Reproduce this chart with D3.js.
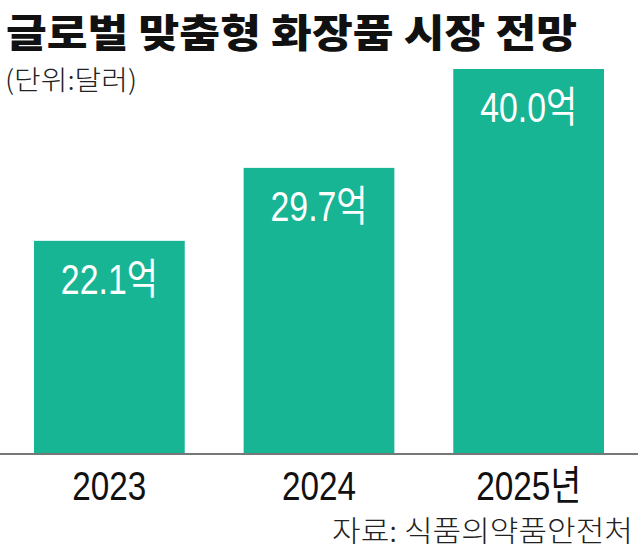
<!DOCTYPE html>
<html><head><meta charset="utf-8">
<script src="https://cdn.jsdelivr.net/npm/d3@7"></script>
<style>
html,body{margin:0;padding:0;background:#fff;}
svg{display:block;font-family:"Noto Sans CJK KR","Noto Sans",sans-serif;}
</style></head>
<body><svg id="c" width="638" height="550"></svg>
<script>
const categories = ["2023", "2024", "2025년"];
const values = [22.1, 29.7, 40.0];
const valueLabels = ["22.1억", "29.7억", "40.0억"];
const title = "글로벌 맞춤형 화장품 시장 전망";
const unitText = "(단위:달러)";
const sourceText = "자료:  식품의약품안전처";

const svg = d3.select("#c");
const barColor = "#17b593";
const numFont = "'Liberation Sans Narrow','Liberation Sans','Noto Sans CJK KR',sans-serif";

const x = d3.scaleBand().domain(categories).range([34, 604]).paddingInner(59/210).paddingOuter(0);
const y = d3.scaleLinear().domain([0, 40]).range([453, 69]);

// title
svg.append("text").attr("x", 6).attr("y", 47)
  .attr("font-size", 39).attr("font-weight", 900).attr("fill", "#111")
  .attr("textLength", 571).attr("lengthAdjust", "spacingAndGlyphs")
  .text(title);

svg.append("text").attr("x", 5).attr("y", 90)
  .attr("font-size", 27).attr("font-weight", 300).attr("fill", "#222")
  .attr("textLength", 132).attr("lengthAdjust", "spacingAndGlyphs")
  .text(unitText);

// bars
svg.selectAll("rect.bar").data(values).enter().append("rect")
  .attr("class", "bar")
  .attr("x", (d, i) => x(categories[i]))
  .attr("y", d => y(d))
  .attr("width", x.bandwidth())
  .attr("height", d => y(0) - y(d))
  .attr("fill", barColor);

// value labels
svg.selectAll("text.val").data(values).enter().append("text")
  .attr("class", "val")
  .attr("x", (d, i) => x(categories[i]) + x.bandwidth() / 2)
  .attr("y", d => y(d) + 53)
  .attr("text-anchor", "middle")
  .attr("font-family", numFont)
  .attr("font-size", 42).attr("fill", "#fff")
  .attr("textLength", 97).attr("lengthAdjust", "spacingAndGlyphs")
  .text((d, i) => valueLabels[i]);

// axis
const axis = svg.append("g").attr("transform", "translate(0,454)")
  .call(d3.axisBottom(x).tickSize(0).tickPadding(0));
axis.select(".domain").remove();
axis.selectAll("text")
  .attr("y", 46).attr("dy", 0)
  .attr("font-size", 41).attr("fill", "#111")
  .attr("font-family", numFont)
  .attr("textLength", d => d.length > 4 ? 105 : 74)
  .attr("lengthAdjust", "spacingAndGlyphs");

svg.append("line").attr("x1", 0).attr("x2", 638)
  .attr("y1", y(0) + 1).attr("y2", y(0) + 1)
  .attr("stroke", "#777").attr("stroke-width", 2);

svg.append("text").attr("x", 633).attr("y", 542)
  .attr("text-anchor", "end")
  .attr("font-size", 29).attr("font-weight", 300).attr("fill", "#222")
  .attr("textLength", 301).attr("lengthAdjust", "spacingAndGlyphs")
  .text(sourceText);
</script></body></html>
